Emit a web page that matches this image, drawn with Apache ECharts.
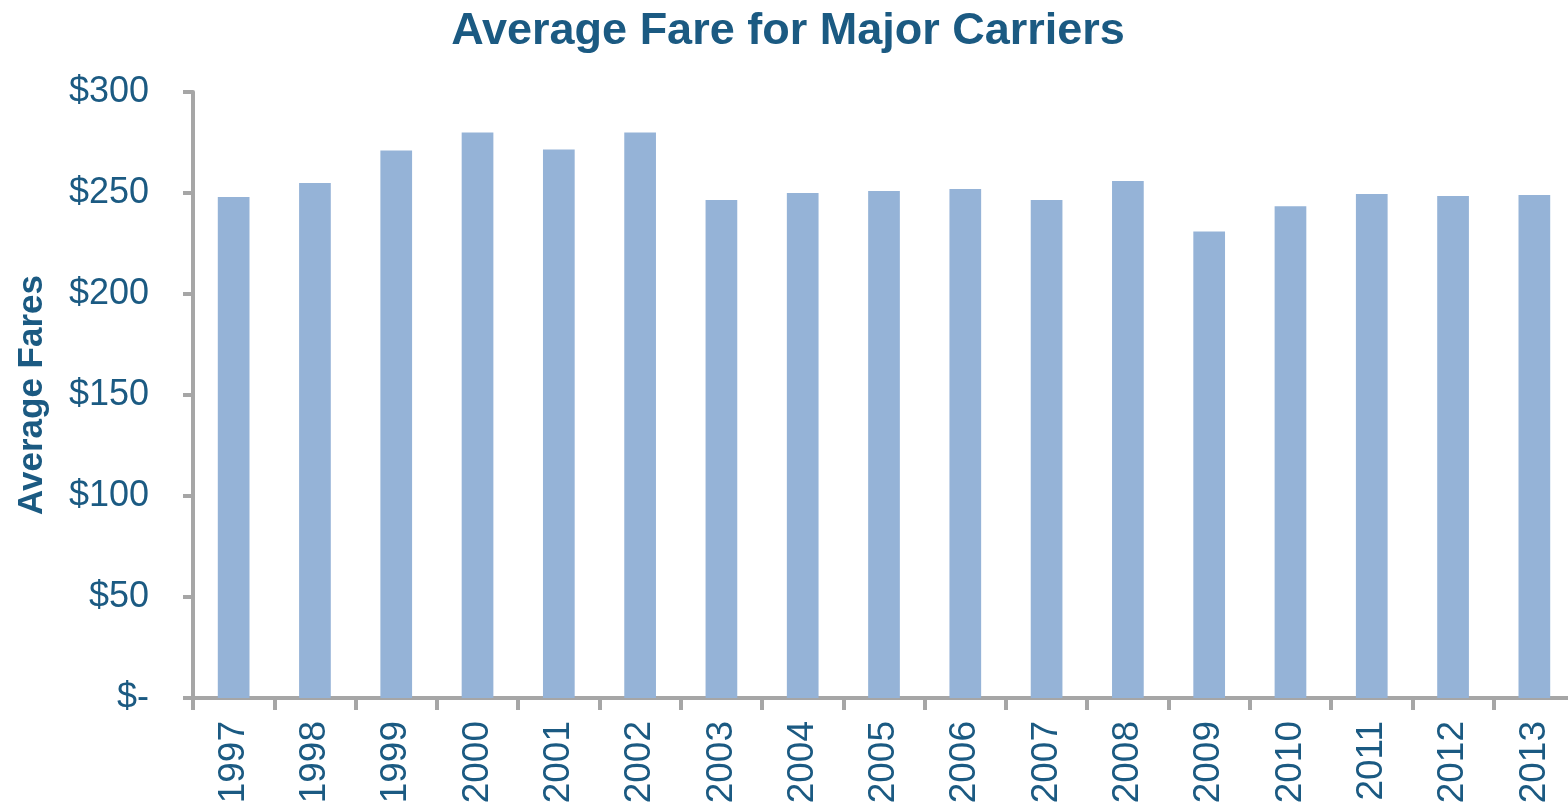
<!DOCTYPE html>
<html>
<head>
<meta charset="utf-8">
<title>Average Fare for Major Carriers</title>
<script src="https://cdn.jsdelivr.net/npm/echarts@6/dist/echarts.min.js"></script>
<style>
  html, body { margin: 0; padding: 0; background: #ffffff; overflow: hidden; }
  /* the plot runs slightly past the right edge of the window, so the last bar sits near the border */
  #chart { width: 1576px; height: 807px; }
</style>
</head>
<body>
<div id="chart"></div>
<script>
// Years on the category axis
const years = ['1997', '1998', '1999', '2000', '2001', '2002', '2003', '2004', '2005',
               '2006', '2007', '2008', '2009', '2010', '2011', '2012', '2013'];

// Average fare per year, in dollars
const averageFares = [248, 255, 271, 280, 271.5, 280, 246.5, 250, 251, 252, 246.5, 256,
                      231, 243.5, 249.5, 248.5, 249];

// Value-axis ticks in dollars
const fareTicks = [0, 50, 100, 150, 200, 250, 300];

const textColor = '#1b5a82';
const axisColor = '#a6a6a6';
const fontFamily = '"Liberation Sans", Arial, sans-serif';

const chart = echarts.init(document.getElementById('chart'), null, { renderer: 'canvas' });

chart.setOption({
  animation: false,
  backgroundColor: '#ffffff',
  title: {
    text: 'Average Fare for Major Carriers',
    left: 'center',
    top: 4,
    textStyle: {
      color: textColor,
      fontFamily: fontFamily,
      fontSize: 45,
      fontWeight: 'bold'
    }
  },
  grid: {
    left: 193,
    top: 92,
    width: 1382,
    height: 606,
    containLabel: false
  },
  xAxis: {
    type: 'category',
    data: years,
    boundaryGap: true,
    axisLine: { show: true, lineStyle: { color: axisColor, width: 4 } },
    axisTick: {
      show: true,
      alignWithLabel: false,
      length: 12,
      lineStyle: { color: axisColor, width: 4 }
    },
    axisLabel: {
      rotate: 90,
      margin: 23,
      interval: 0,
      color: textColor,
      fontFamily: fontFamily,
      fontSize: 37
    }
  },
  yAxis: {
    type: 'value',
    min: fareTicks[0],
    max: fareTicks[fareTicks.length - 1],
    interval: fareTicks[1] - fareTicks[0],
    name: 'Average Fares',
    nameLocation: 'middle',
    nameRotate: 90,
    nameGap: 143,
    nameTextStyle: {
      color: textColor,
      fontFamily: fontFamily,
      fontSize: 35,
      fontWeight: 'bold'
    },
    splitLine: { show: false },
    axisLine: { show: true, lineStyle: { color: axisColor, width: 4 } },
    axisTick: {
      show: true,
      length: 10,
      lineStyle: { color: axisColor, width: 4 }
    },
    axisLabel: {
      margin: 44,
      color: textColor,
      fontFamily: fontFamily,
      fontSize: 36,
      formatter: function (v) { return v === 0 ? '$-' : '$' + v; }
    }
  },
  series: [{
    type: 'bar',
    data: averageFares,
    barWidth: '39%',
    itemStyle: { color: '#95b3d7' }
  }]
});
</script>
</body>
</html>
